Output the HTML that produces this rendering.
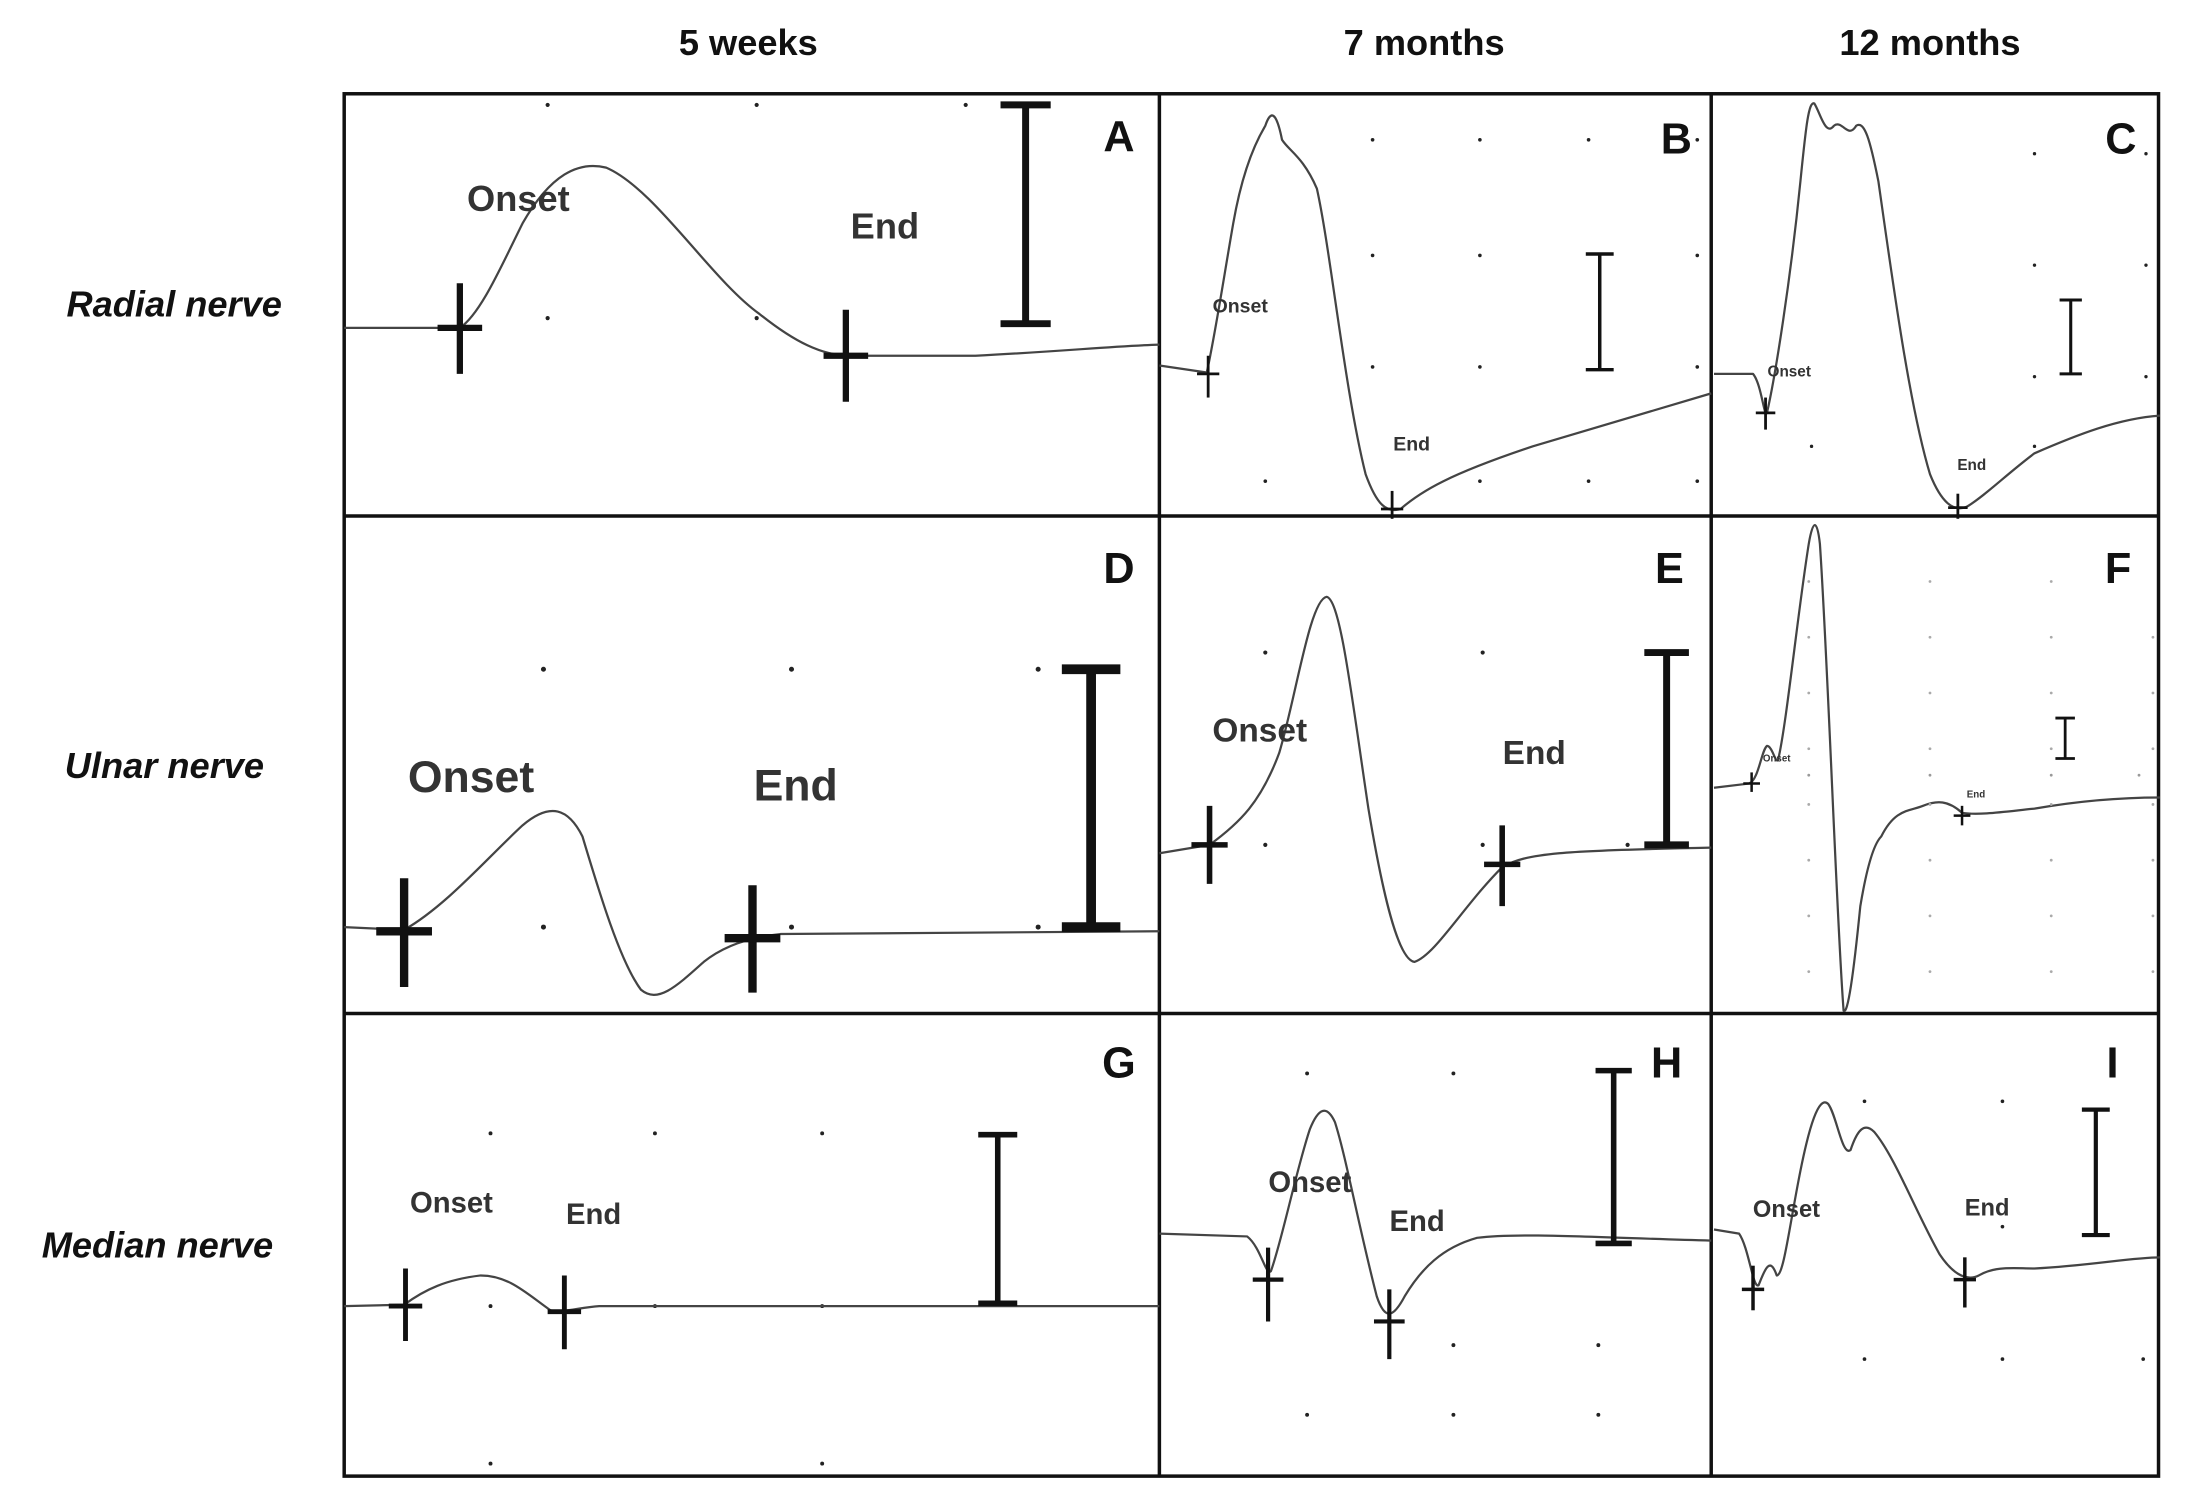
<!DOCTYPE html>
<html><head><meta charset="utf-8"><style>
html,body{margin:0;padding:0;background:#fff;}
svg{display:block;}
text{font-family:"Liberation Sans",sans-serif;}
.h{font-size:26px;font-weight:bold;fill:#111;text-anchor:middle;}
.r{font-size:26px;font-weight:bold;font-style:italic;fill:#111;text-anchor:middle;}
.L{font-size:31px;font-weight:bold;fill:#111;text-anchor:middle;}
.t{fill:none;stroke:#444;stroke-width:1.6;stroke-linejoin:round;}
.lb{font-weight:bold;fill:#333;text-anchor:middle;}
</style></head><body>
<svg width="2185" height="1503" viewBox="0 0 1568 1078" xmlns="http://www.w3.org/2000/svg">
<rect width="1568" height="1078" fill="#fff"/>
<text class="h" x="537" y="39">5 weeks</text>
<text class="h" x="1022" y="39">7 months</text>
<text class="h" x="1385" y="39">12 months</text>
<text class="r" x="125" y="227">Radial nerve</text>
<text class="r" x="118" y="558">Ulnar nerve</text>
<text class="r" x="113" y="902">Median nerve</text>

<g fill="#222">
<!-- A dots -->
<circle cx="393" cy="75" r="1.5"/><circle cx="543" cy="75" r="1.5"/><circle cx="693" cy="75" r="1.5"/><circle cx="393" cy="228" r="1.5"/><circle cx="543" cy="228" r="1.5"/>
<!-- B dots -->
<circle cx="985" cy="100" r="1.3"/><circle cx="1062" cy="100" r="1.3"/><circle cx="1140" cy="100" r="1.3"/><circle cx="1218" cy="100" r="1.3"/>
<circle cx="985" cy="183" r="1.3"/><circle cx="1062" cy="183" r="1.3"/><circle cx="1218" cy="183" r="1.3"/>
<circle cx="985" cy="263" r="1.3"/><circle cx="1062" cy="263" r="1.3"/><circle cx="1218" cy="263" r="1.3"/>
<circle cx="908" cy="345" r="1.3"/><circle cx="1062" cy="345" r="1.3"/><circle cx="1140" cy="345" r="1.3"/><circle cx="1218" cy="345" r="1.3"/>
<!-- C dots -->
<circle cx="1460" cy="110" r="1.2"/><circle cx="1540" cy="110" r="1.2"/><circle cx="1460" cy="190" r="1.2"/><circle cx="1540" cy="190" r="1.2"/><circle cx="1460" cy="270" r="1.2"/><circle cx="1540" cy="270" r="1.2"/><circle cx="1300" cy="320" r="1.2"/><circle cx="1460" cy="320" r="1.2"/>
<!-- D dots -->
<circle cx="390" cy="480" r="1.8"/><circle cx="568" cy="480" r="1.8"/><circle cx="745" cy="480" r="1.8"/><circle cx="390" cy="665" r="1.8"/><circle cx="568" cy="665" r="1.8"/><circle cx="745" cy="665" r="1.8"/>
<!-- E dots -->
<circle cx="908" cy="468" r="1.5"/><circle cx="1064" cy="468" r="1.5"/><circle cx="908" cy="606" r="1.5"/><circle cx="1064" cy="606" r="1.5"/><circle cx="1168" cy="606" r="1.5"/>
<!-- G dots -->
<circle cx="352" cy="813" r="1.4"/><circle cx="470" cy="813" r="1.4"/><circle cx="590" cy="813" r="1.4"/><circle cx="352" cy="937" r="1.4"/><circle cx="470" cy="937" r="1.4"/><circle cx="590" cy="937" r="1.4"/><circle cx="352" cy="1050" r="1.4"/><circle cx="590" cy="1050" r="1.4"/>
<!-- H dots -->
<circle cx="938" cy="770" r="1.4"/><circle cx="1043" cy="770" r="1.4"/><circle cx="1043" cy="965" r="1.4"/><circle cx="1147" cy="965" r="1.4"/><circle cx="938" cy="1015" r="1.4"/><circle cx="1043" cy="1015" r="1.4"/><circle cx="1147" cy="1015" r="1.4"/>
<!-- I dots -->
<circle cx="1338" cy="790" r="1.3"/><circle cx="1437" cy="790" r="1.3"/><circle cx="1437" cy="880" r="1.3"/><circle cx="1338" cy="975" r="1.3"/><circle cx="1437" cy="975" r="1.3"/><circle cx="1538" cy="975" r="1.3"/>
</g>
<!-- F dots grid -->
<g fill="#999">
<circle cx="1298" cy="556" r="1"/><circle cx="1385" cy="556" r="1"/><circle cx="1472" cy="556" r="1"/><circle cx="1535" cy="556" r="1"/>
</g>
<g fill="#aaa" id="fd"></g>

<!-- frames -->
<g fill="none" stroke="#111" stroke-width="2.5">
<rect x="247" y="67" width="1302" height="992"/>
<line x1="832" y1="67" x2="832" y2="1059"/>
<line x1="1228" y1="67" x2="1228" y2="1059"/>
<line x1="247" y1="370" x2="1549" y2="370"/>
<line x1="247" y1="727" x2="1549" y2="727"/>
</g>

<text class="L" x="803" y="108">A</text>
<text class="L" x="1203" y="110">B</text>
<text class="L" x="1522" y="110">C</text>
<text class="L" x="803" y="418">D</text>
<text class="L" x="1198" y="418">E</text>
<text class="L" x="1520" y="418">F</text>
<text class="L" x="803" y="773">G</text>
<text class="L" x="1196" y="773">H</text>
<text class="L" x="1516" y="773">I</text>

<!-- traces -->
<path class="t" d="M247,235 L330,235 C345,225 360,190 375,160 C395,125 415,115 435,120 C470,135 510,200 545,225 C570,245 590,255 610,255 L700,255 C760,252 800,248 832,247"/>
<path class="t" d="M832,262 L866,267 C872,240 878,200 885,160 C892,120 902,100 908,90 C912,78 916,80 920,100 C925,108 935,112 945,135 C955,180 965,280 980,340 C988,362 995,368 1005,365 C1020,352 1040,340 1100,320 C1150,305 1200,290 1228,282"/>
<path class="t" d="M1230,268 L1258,268 C1264,275 1266,300 1268,296 C1274,270 1285,200 1292,130 C1296,90 1298,72 1302,74 C1306,80 1310,98 1316,90 C1322,85 1326,100 1332,90 C1338,86 1342,100 1348,130 C1358,200 1370,290 1385,340 C1393,360 1402,368 1412,363 C1425,355 1440,340 1460,325 C1490,312 1520,300 1550,298"/>
<path class="t" stroke-width="2.4" d="M247,665 L290,667 C320,650 350,615 375,592 C395,575 408,580 418,600 C430,640 445,690 460,710 C472,720 485,708 505,690 C520,678 540,672 560,670 L832,668"/>
<path class="t" stroke-width="2" d="M832,612 L868,606 C890,590 905,575 918,540 C930,500 940,430 952,428 C962,430 970,500 982,580 C992,640 1003,688 1015,690 C1030,685 1050,650 1078,622 C1095,612 1120,610 1228,608"/>
<path class="t" d="M1230,565 L1255,562 C1262,560 1264,538 1268,535 C1272,535 1274,548 1276,545 C1282,520 1290,440 1298,390 C1301,372 1304,372 1306,390 C1312,480 1318,660 1323,725 C1326,728 1330,700 1335,650 C1340,620 1345,605 1350,600 C1360,580 1370,582 1380,578 C1390,574 1398,574 1408,583 C1420,585 1440,582 1460,580 C1500,573 1530,572 1550,572"/>
<path class="t" stroke-width="2" d="M247,937 L290,936 C305,925 320,918 345,915 C365,915 378,928 395,940 C405,942 415,938 430,937 L832,937"/>
<path class="t" d="M832,885 L895,887 C905,895 908,915 912,912 C920,890 930,840 940,810 C946,795 952,792 958,805 C966,830 975,880 988,930 C994,948 1000,945 1008,930 C1020,910 1035,895 1060,888 C1090,884 1150,888 1228,890"/>
<path class="t" d="M1230,882 L1248,885 C1255,895 1258,925 1262,922 C1266,912 1270,900 1275,915 C1280,915 1284,880 1292,840 C1298,810 1305,785 1312,792 C1318,800 1322,830 1328,825 C1333,810 1338,805 1345,812 C1360,830 1375,870 1392,900 C1400,912 1410,920 1420,915 C1432,908 1445,910 1460,910 C1500,908 1530,902 1550,902"/>

<!-- markers -->
<g stroke="#111" fill="none">
<g stroke-width="4.5"><line x1="330" y1="203" x2="330" y2="268"/><line x1="314" y1="235" x2="346" y2="235"/><line x1="607" y1="222" x2="607" y2="288"/><line x1="591" y1="255" x2="623" y2="255"/></g>
<g stroke-width="2"><line x1="867" y1="255" x2="867" y2="285"/><line x1="859" y1="268" x2="875" y2="268"/><line x1="999" y1="352" x2="999" y2="372"/><line x1="991" y1="365" x2="1007" y2="365"/></g>
<g stroke-width="2"><line x1="1267" y1="285" x2="1267" y2="308"/><line x1="1260" y1="296" x2="1274" y2="296"/><line x1="1405" y1="354" x2="1405" y2="372"/><line x1="1398" y1="364" x2="1412" y2="364"/></g>
<g stroke-width="6"><line x1="290" y1="630" x2="290" y2="708"/><line x1="270" y1="668" x2="310" y2="668"/><line x1="540" y1="635" x2="540" y2="712"/><line x1="520" y1="673" x2="560" y2="673"/></g>
<g stroke-width="4"><line x1="868" y1="578" x2="868" y2="634"/><line x1="855" y1="606" x2="881" y2="606"/><line x1="1078" y1="592" x2="1078" y2="650"/><line x1="1065" y1="620" x2="1091" y2="620"/></g>
<g stroke-width="1.8"><line x1="1257" y1="554" x2="1257" y2="568"/><line x1="1251" y1="562" x2="1263" y2="562"/><line x1="1408" y1="578" x2="1408" y2="592"/><line x1="1402" y1="585" x2="1414" y2="585"/></g>
<g stroke-width="3.5"><line x1="291" y1="910" x2="291" y2="962"/><line x1="279" y1="937" x2="303" y2="937"/><line x1="405" y1="915" x2="405" y2="968"/><line x1="393" y1="941" x2="417" y2="941"/></g>
<g stroke-width="3"><line x1="910" y1="895" x2="910" y2="948"/><line x1="899" y1="918" x2="921" y2="918"/><line x1="997" y1="925" x2="997" y2="975"/><line x1="986" y1="948" x2="1008" y2="948"/></g>
<g stroke-width="2.5"><line x1="1258" y1="908" x2="1258" y2="940"/><line x1="1250" y1="925" x2="1266" y2="925"/><line x1="1410" y1="902" x2="1410" y2="938"/><line x1="1402" y1="918" x2="1418" y2="918"/></g>
</g>

<!-- scale bars -->
<g stroke="#111" fill="none">
<g stroke-width="5"><line x1="736" y1="75" x2="736" y2="232"/><line x1="718" y1="75" x2="754" y2="75"/><line x1="718" y1="232" x2="754" y2="232"/></g>
<g stroke-width="2.5"><line x1="1148" y1="182" x2="1148" y2="265"/><line x1="1138" y1="182" x2="1158" y2="182"/><line x1="1138" y1="265" x2="1158" y2="265"/></g>
<g stroke-width="2.2"><line x1="1486" y1="215" x2="1486" y2="268"/><line x1="1478" y1="215" x2="1494" y2="215"/><line x1="1478" y1="268" x2="1494" y2="268"/></g>
<g stroke-width="7"><line x1="783" y1="480" x2="783" y2="665"/><line x1="762" y1="480" x2="804" y2="480"/><line x1="762" y1="665" x2="804" y2="665"/></g>
<g stroke-width="5"><line x1="1196" y1="468" x2="1196" y2="606"/><line x1="1180" y1="468" x2="1212" y2="468"/><line x1="1180" y1="606" x2="1212" y2="606"/></g>
<g stroke-width="2"><line x1="1482" y1="515" x2="1482" y2="544"/><line x1="1475" y1="515" x2="1489" y2="515"/><line x1="1475" y1="544" x2="1489" y2="544"/></g>
<g stroke-width="4"><line x1="716" y1="814" x2="716" y2="935"/><line x1="702" y1="814" x2="730" y2="814"/><line x1="702" y1="935" x2="730" y2="935"/></g>
<g stroke-width="4"><line x1="1158" y1="768" x2="1158" y2="892"/><line x1="1145" y1="768" x2="1171" y2="768"/><line x1="1145" y1="892" x2="1171" y2="892"/></g>
<g stroke-width="3"><line x1="1504" y1="796" x2="1504" y2="886"/><line x1="1494" y1="796" x2="1514" y2="796"/><line x1="1494" y1="886" x2="1514" y2="886"/></g>
</g>

<!-- labels -->
<text class="lb" x="372" y="151" font-size="26">Onset</text>
<text class="lb" x="635" y="171" font-size="26">End</text>
<text class="lb" x="890" y="224" font-size="14">Onset</text>
<text class="lb" x="1013" y="323" font-size="14">End</text>
<text class="lb" x="1284" y="270" font-size="11">Onset</text>
<text class="lb" x="1415" y="337" font-size="11">End</text>
<text class="lb" x="338" y="568" font-size="32">Onset</text>
<text class="lb" x="571" y="574" font-size="32">End</text>
<text class="lb" x="904" y="532" font-size="24">Onset</text>
<text class="lb" x="1101" y="548" font-size="24">End</text>
<text class="lb" x="1275" y="546" font-size="7">Onset</text>
<text class="lb" x="1418" y="572" font-size="7">End</text>
<text class="lb" x="324" y="870" font-size="21">Onset</text>
<text class="lb" x="426" y="878" font-size="21">End</text>
<text class="lb" x="940" y="855" font-size="21">Onset</text>
<text class="lb" x="1017" y="883" font-size="21">End</text>
<text class="lb" x="1282" y="873" font-size="17">Onset</text>
<text class="lb" x="1426" y="872" font-size="17">End</text>

<!-- F dot grid -->
<g fill="#aaa">
<circle cx="1298" cy="417" r="1"/><circle cx="1385" cy="417" r="1"/><circle cx="1472" cy="417" r="1"/>
<circle cx="1298" cy="457" r="1"/><circle cx="1385" cy="457" r="1"/><circle cx="1472" cy="457" r="1"/><circle cx="1545" cy="457" r="1"/>
<circle cx="1298" cy="497" r="1"/><circle cx="1385" cy="497" r="1"/><circle cx="1472" cy="497" r="1"/><circle cx="1545" cy="497" r="1"/>
<circle cx="1298" cy="537" r="1"/><circle cx="1385" cy="537" r="1"/><circle cx="1472" cy="537" r="1"/><circle cx="1545" cy="537" r="1"/>
<circle cx="1298" cy="577" r="1"/><circle cx="1385" cy="577" r="1"/><circle cx="1472" cy="577" r="1"/><circle cx="1545" cy="577" r="1"/>
<circle cx="1298" cy="617" r="1"/><circle cx="1385" cy="617" r="1"/><circle cx="1472" cy="617" r="1"/><circle cx="1545" cy="617" r="1"/>
<circle cx="1298" cy="657" r="1"/><circle cx="1385" cy="657" r="1"/><circle cx="1472" cy="657" r="1"/><circle cx="1545" cy="657" r="1"/>
<circle cx="1298" cy="697" r="1"/><circle cx="1385" cy="697" r="1"/><circle cx="1472" cy="697" r="1"/><circle cx="1545" cy="697" r="1"/>
</g>
</svg>
</body></html>
